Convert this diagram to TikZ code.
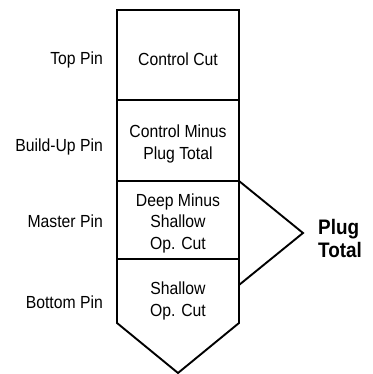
\documentclass[tikz,border=0pt]{standalone}
\usepackage{fontspec}
\setmainfont{Liberation Sans}[FakeStretch=0.9]
\usetikzlibrary{positioning}
\newcommand\labfont{\fontsize{17.5}{21.5}\selectfont}
\newcommand\sumfont{\fontsize{21}{23}\selectfont\bfseries}

\begin{document}
\begin{tikzpicture}[x=1pt,y=1pt,pin/.style={anchor=east,font=\labfont,inner sep=0pt},cut/.style={align=center,font=\labfont,inner sep=0pt},total/.style={anchor=west,align=left,font=\sumfont,inner sep=0pt},outline/.style={draw,line width=1.9pt,line join=miter}]
\useasboundingbox (0,0) rectangle (372,374);
% stack corners
\coordinate (tl) at (117,364);
\coordinate (tr) at (239,364);
\coordinate (d1l) at (117,274);
\coordinate (d1r) at (239,274);
\coordinate (d2l) at (117,193);
\coordinate (d2r) at (239,193);
\coordinate (d3l) at (117,115);
\coordinate (d3r) at (239,115);
\coordinate (bl) at (117,51);
\coordinate (br) at (239,51);
\coordinate (tip) at (178,1);
\draw[outline] (tip) -- (bl) -- (tl) -- (tr) -- (br) -- cycle;
\draw[outline] (d1l) -- (d1r);
\draw[outline] (d2l) -- (d2r);
\draw[outline] (d3l) -- (d3r);
% bracket over master and bottom pins
\coordinate (apex) at (303,141);
\coordinate (bend) at (239,89);
\draw[outline] (d2r) -- (apex) -- (bend);
% pin names
\node[pin] (pTop) at (103,314) {Top Pin};
\node[pin] (pBuild) at (103,227) {Build-Up Pin};
\node[pin] (pMaster) at (103,153) {Master Pin};
\node[pin] (pBottom) at (103,72) {Bottom Pin};
% cuts
\node[cut] (cTop) at (178,315) {Control Cut};
\node[cut] (cBuild) at (178,230) {Control Minus\\Plug Total};
\node[cut] (cMaster) at (178,151) {Deep Minus\\Shallow\\Op. Cut};
\node[cut] (cBottom) at (178,73) {Shallow\\Op. Cut};
\node[total] (tPlug) at (318,136) {Plug\\Total};
\end{tikzpicture}
\end{document}
